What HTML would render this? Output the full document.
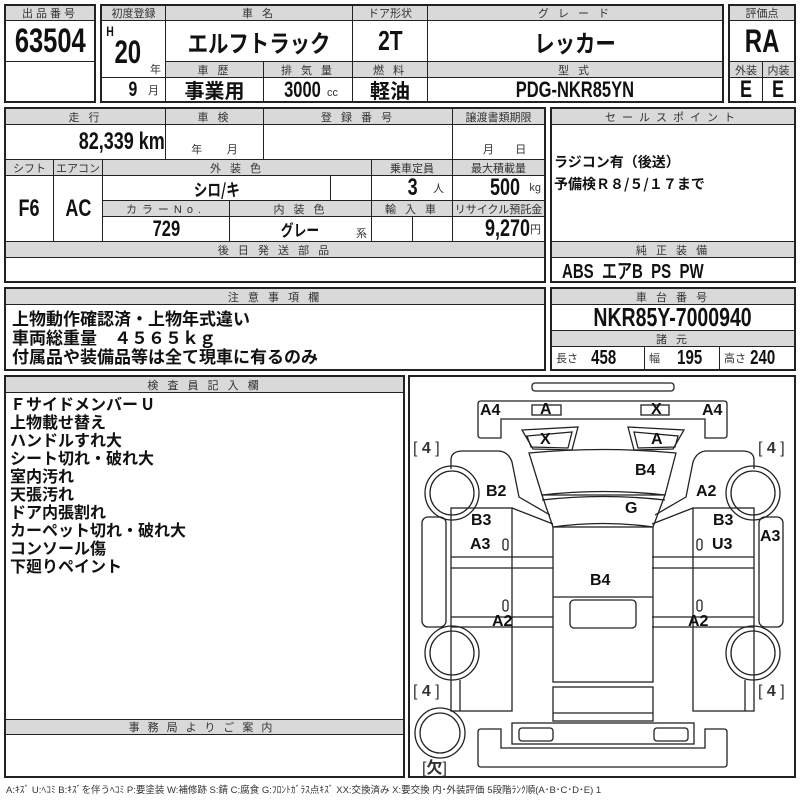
<!DOCTYPE html>
<html><head><meta charset="utf-8"><style>
body{margin:0;width:800px;height:800px;background:#fff;position:relative;overflow:hidden;font-family:"Liberation Sans","Noto Sans CJK JP",sans-serif;color:#111}
.c{position:absolute;box-sizing:border-box;border:1px solid #222;display:flex;align-items:center;justify-content:center;overflow:hidden;white-space:nowrap}
.h{background:#d9d9d9;font-size:11px;color:#333;letter-spacing:3px}
.v{font-family:"Liberation Sans","Noto Sans CJK JP",sans-serif;font-weight:bold;font-size:22px}
.n{display:inline-block;transform:scaleX(.75);font-family:"Liberation Sans",sans-serif;font-weight:bold}
.j{font-family:"Noto Sans CJK JP",sans-serif;font-weight:bold;font-size:18px}
.s{font-size:11px;color:#333;font-weight:normal}
.o{position:absolute;box-sizing:border-box;border:2px solid #222;pointer-events:none}
</style></head><body>
<!-- Box1 -->
<div class="c h" style="left:5px;top:5px;width:90px;height:16px">出品番号</div>
<div class="c" style="left:5px;top:20px;width:90px;height:42px"><span class="n" style="font-size:34px">63504</span></div>
<div class="c" style="left:5px;top:61px;width:90px;height:41px"></div>
<div class="o" style="left:4px;top:4px;width:92px;height:99px"></div>
<!-- Box2 -->
<div class="c h" style="left:101px;top:5px;width:65px;height:16px;letter-spacing:0">初度登録</div>
<div class="c h" style="left:165px;top:5px;width:188px;height:16px">車 名</div>
<div class="c h" style="left:352px;top:5px;width:76px;height:16px;letter-spacing:0">ドア形状</div>
<div class="c h" style="left:427px;top:5px;width:296px;height:16px">グ レ ー ド</div>
<div class="c" style="left:101px;top:20px;width:65px;height:58px;display:block">
 <span class="n" style="position:absolute;left:3px;top:2px;font-size:14px">H</span>
 <span class="n" style="position:absolute;left:8px;top:13px;font-size:32px">20</span>
 <span class="s" style="position:absolute;left:48px;top:40px">年</span></div>
<div class="c" style="left:165px;top:20px;width:188px;height:42px"><span class="j" style="font-size:24px;display:inline-block;transform:scaleX(.85)">エルフトラック</span></div>
<div class="c" style="left:352px;top:20px;width:76px;height:42px"><span class="n" style="font-size:28px">2T</span></div>
<div class="c" style="left:427px;top:20px;width:296px;height:42px"><span class="j" style="font-size:24px;display:inline-block;transform:scaleX(.85)">レッカー</span></div>
<div class="c h" style="left:165px;top:61px;width:99px;height:17px">車 歴</div>
<div class="c h" style="left:263px;top:61px;width:90px;height:17px">排 気 量</div>
<div class="c h" style="left:352px;top:61px;width:76px;height:17px">燃 料</div>
<div class="c h" style="left:427px;top:61px;width:296px;height:17px">型 式</div>
<div class="c" style="left:101px;top:77px;width:65px;height:25px;justify-content:flex-end;padding-right:6px"><span class="n" style="font-size:21px">9</span>&nbsp;&nbsp;<span class="s">月</span></div>
<div class="c j" style="left:165px;top:77px;width:99px;height:25px;font-size:20px">事業用</div>
<div class="c" style="left:263px;top:77px;width:90px;height:25px"><span class="n" style="font-size:22px">3000</span><span class="s" style="margin-top:6px">cc</span></div>
<div class="c j" style="left:352px;top:77px;width:76px;height:25px;font-size:20px">軽油</div>
<div class="c" style="left:427px;top:77px;width:296px;height:25px"><span class="n" style="font-size:22px">PDG-NKR85YN</span></div>
<div class="o" style="left:100px;top:4px;width:624px;height:99px"></div>
<!-- Box3 -->
<div class="c h" style="left:729px;top:5px;width:66px;height:16px;letter-spacing:0">評価点</div>
<div class="c" style="left:729px;top:20px;width:66px;height:42px"><span class="n" style="font-size:32px">RA</span></div>
<div class="c h" style="left:729px;top:61px;width:34px;height:17px;letter-spacing:0">外装</div>
<div class="c h" style="left:762px;top:61px;width:33px;height:17px;letter-spacing:0">内装</div>
<div class="c" style="left:729px;top:77px;width:34px;height:25px"><span class="n" style="font-size:24px">E</span></div>
<div class="c" style="left:762px;top:77px;width:33px;height:25px"><span class="n" style="font-size:24px">E</span></div>
<div class="o" style="left:728px;top:4px;width:68px;height:99px"></div>
<!-- Box4 -->
<div class="c h" style="left:5px;top:108px;width:161px;height:17px">走 行</div>
<div class="c h" style="left:165px;top:108px;width:99px;height:17px">車 検</div>
<div class="c h" style="left:263px;top:108px;width:190px;height:17px">登 録 番 号</div>
<div class="c h" style="left:452px;top:108px;width:93px;height:17px;letter-spacing:0">譲渡書類期限</div>
<div class="c" style="left:5px;top:124px;width:161px;height:36px;justify-content:flex-end;padding-right:0px"><span class="n" style="font-size:24px;transform-origin:right">82,339 km</span></div>
<div class="c s" style="left:165px;top:124px;width:99px;height:36px;align-items:flex-end;padding-bottom:2px">年&nbsp;&nbsp;&nbsp;&nbsp;&nbsp;&nbsp;&nbsp;&nbsp;月</div>
<div class="c" style="left:263px;top:124px;width:190px;height:36px"></div>
<div class="c s" style="left:452px;top:124px;width:93px;height:36px;align-items:flex-end;padding-bottom:2px">&nbsp;&nbsp;&nbsp;&nbsp;月&nbsp;&nbsp;&nbsp;&nbsp;&nbsp;&nbsp;&nbsp;日</div>
<div class="c h" style="left:5px;top:159px;width:49px;height:17px;letter-spacing:0">シフト</div>
<div class="c h" style="left:53px;top:159px;width:50px;height:17px;letter-spacing:0">エアコン</div>
<div class="c h" style="left:102px;top:159px;width:270px;height:17px">外 装 色</div>
<div class="c h" style="left:371px;top:159px;width:82px;height:17px;letter-spacing:0">乗車定員</div>
<div class="c h" style="left:452px;top:159px;width:93px;height:17px;letter-spacing:0">最大積載量</div>
<div class="c" style="left:5px;top:175px;width:49px;height:67px"><span class="n" style="font-size:24px">F6</span></div>
<div class="c" style="left:53px;top:175px;width:50px;height:67px"><span class="n" style="font-size:24px">AC</span></div>
<div class="c" style="left:102px;top:175px;width:229px;height:26px"><span class="j" style="font-size:17px;display:inline-block;transform:scaleX(.8)">シロ/キ</span></div>
<div class="c" style="left:330px;top:175px;width:42px;height:26px"></div>
<div class="c" style="left:371px;top:175px;width:82px;height:26px;justify-content:flex-end;padding-right:8px"><span class="n" style="font-size:24px">3</span>&nbsp;&nbsp;&nbsp;<span class="s">人</span></div>
<div class="c" style="left:452px;top:175px;width:93px;height:26px;justify-content:flex-end;padding-right:3px"><span class="n" style="font-size:24px">500</span>&nbsp;<span class="s">kg</span></div>
<div class="c h" style="left:102px;top:200px;width:128px;height:17px;letter-spacing:5px">カラーNo.</div>
<div class="c h" style="left:229px;top:200px;width:143px;height:17px">内 装 色</div>
<div class="c h" style="left:371px;top:200px;width:82px;height:17px">輸 入 車</div>
<div class="c h" style="left:452px;top:200px;width:93px;height:17px;letter-spacing:0">リサイクル預託金</div>
<div class="c" style="left:102px;top:216px;width:128px;height:26px"><span class="n" style="font-size:22px">729</span></div>
<div class="c" style="left:229px;top:216px;width:143px;height:26px"><span class="j" style="font-size:16px;display:inline-block;transform:scaleX(.8)">グレー</span><span class="s" style="position:absolute;right:4px;top:8px">系</span></div>
<div class="c" style="left:371px;top:216px;width:42px;height:26px"></div>
<div class="c" style="left:412px;top:216px;width:41px;height:26px"></div>
<div class="c" style="left:452px;top:216px;width:93px;height:26px;justify-content:flex-end;padding-right:3px"><span class="n" style="font-size:24px;transform-origin:right">9,270</span><span class="s">円</span></div>
<div class="c h" style="left:5px;top:241px;width:540px;height:17px">後 日 発 送 部 品</div>
<div class="c" style="left:5px;top:257px;width:540px;height:25px"></div>
<div class="o" style="left:4px;top:107px;width:542px;height:176px"></div>
<!-- Box5 -->
<div class="c h" style="left:551px;top:108px;width:244px;height:17px;letter-spacing:6px">セールスポイント</div>
<div class="c" style="left:551px;top:124px;width:244px;height:118px;display:block;padding:26px 0 0 2px;font-family:'Noto Sans CJK JP',sans-serif;font-weight:bold;font-size:14px;line-height:22px">ラジコン有（後送）<br>予備検Ｒ８/５/１７まで</div>
<div class="c h" style="left:551px;top:241px;width:244px;height:17px">純 正 装 備</div>
<div class="c" style="left:551px;top:257px;width:244px;height:25px;justify-content:flex-start;padding-left:0px"><span class="n" style="font-size:20px;transform-origin:left;margin-left:10px">ABS&nbsp; エアB&nbsp; PS&nbsp; PW</span></div>
<div class="o" style="left:550px;top:107px;width:246px;height:176px"></div>
<!-- Box6 -->
<div class="c h" style="left:5px;top:288px;width:540px;height:17px">注 意 事 項 欄</div>
<div class="c j" style="left:5px;top:304px;width:540px;height:66px;display:block;padding:3px 0 0 6px;line-height:19px;font-size:17px">上物動作確認済・上物年式違い<br>車両総重量　４５６５ｋｇ<br>付属品や装備品等は全て現車に有るのみ</div>
<div class="o" style="left:4px;top:287px;width:542px;height:84px"></div>
<!-- Box7 -->
<div class="c h" style="left:551px;top:288px;width:244px;height:17px">車 台 番 号</div>
<div class="c" style="left:551px;top:304px;width:244px;height:27px"><span class="n" style="font-size:26px">NKR85Y-7000940</span></div>
<div class="c h" style="left:551px;top:330px;width:244px;height:17px">諸 元</div>
<div class="c" style="left:551px;top:346px;width:94px;height:24px;justify-content:flex-start;padding-left:4px"><span class="s">長さ</span>&nbsp;&nbsp;<span class="n" style="font-size:20px">458</span></div>
<div class="c" style="left:644px;top:346px;width:76px;height:24px;justify-content:flex-start;padding-left:4px"><span class="s">幅</span>&nbsp;&nbsp;&nbsp;<span class="n" style="font-size:20px">195</span></div>
<div class="c" style="left:719px;top:346px;width:76px;height:24px;justify-content:flex-start;padding-left:4px"><span class="s">高さ</span><span class="n" style="font-size:20px">240</span></div>
<div class="o" style="left:550px;top:287px;width:246px;height:84px"></div>
<!-- Box8 -->
<div class="c h" style="left:5px;top:376px;width:399px;height:17px">検 査 員 記 入 欄</div>
<div class="c j" style="left:5px;top:392px;width:399px;height:328px;display:block;padding:1px 0 0 4px;line-height:18px;font-size:16px">Ｆサイドメンバー U<br>上物載せ替え<br>ハンドルすれ大<br>シート切れ・破れ大<br>室内汚れ<br>天張汚れ<br>ドア内張割れ<br>カーペット切れ・破れ大<br>コンソール傷<br>下廻りペイント</div>
<div class="c h" style="left:5px;top:719px;width:399px;height:16px;letter-spacing:8px">事務局よりご案内</div>
<div class="c" style="left:5px;top:734px;width:399px;height:43px"></div>
<div class="o" style="left:4px;top:375px;width:401px;height:403px"></div>
<!-- Box9 diagram -->
<div class="o" style="left:408px;top:375px;width:388px;height:403px"></div>
<svg width="800" height="800" style="position:absolute;left:0;top:0" fill="none" stroke="#222" stroke-width="1.3">
<rect x="532" y="383" width="142" height="8" rx="3"/>
<path d="M478,404 Q478,401 481,401 L724,401 Q727,401 727,404 L727,435 Q727,438 724,438 L705,438 L705,419 L501,419 L501,438 L481,438 Q478,438 478,435 Z"/>
<rect x="532" y="405" width="29" height="10"/><rect x="641" y="405" width="28" height="10"/>
<path d="M522,430 L578,427 L572,450 L533,449 Z"/><path d="M527,436 L572,432 L568,448 L531,447 Z"/>
<path d="M628,427 L684,430 L673,449 L634,450 Z"/><path d="M634,432 L678,436 L675,447 L638,448 Z"/>
<path d="M529,453 Q603,446 676,453 L665,495 Q603,488 542,495 Z"/>
<path d="M542,495 L665,495 L653,527 Q603,520 553,527 Z"/>
<path d="M542,500 Q603,493 665,500"/>
<rect x="553" y="527" width="100" height="155"/><line x1="553" y1="597" x2="653" y2="597"/>
<rect x="570" y="600" width="66" height="28" rx="4"/>
<rect x="553" y="687" width="100" height="34"/><line x1="553" y1="713" x2="653" y2="713"/>
<path d="M478,732 Q478,729 481,729 L501,729 L501,748 L705,748 L705,729 L724,729 Q727,729 727,732 L727,764 Q727,767 724,767 L481,767 Q478,767 478,764 Z"/>
<rect x="512" y="723" width="182" height="21"/>
<rect x="519" y="728" width="34" height="13" rx="3"/><rect x="654" y="728" width="34" height="13" rx="3"/>
<g id="L">
<path d="M451,469 L451,460 Q451,451 463,451 L498,451 Q508,451 512,462 L519,497 L550,515"/>
<path d="M512,508 L553,524"/>
<rect x="451" y="508" width="61" height="203"/>
<line x1="451" y1="557" x2="553" y2="557"/><line x1="451" y1="568" x2="553" y2="568"/>
<line x1="451" y1="617" x2="553" y2="617"/><line x1="451" y1="627" x2="553" y2="627"/>
<line x1="460" y1="680" x2="460" y2="711"/>
<rect x="422" y="517" width="24" height="110" rx="6"/>
<circle cx="452" cy="493" r="27"/><circle cx="452" cy="493" r="22"/>
<circle cx="452" cy="653" r="27"/><circle cx="452" cy="653" r="22"/>
<rect x="503" y="539" width="5" height="11" rx="2.5"/><rect x="503" y="600" width="5" height="11" rx="2.5"/>
</g>
<use href="#L" transform="translate(1205,0) scale(-1,1)"/>
<circle cx="440" cy="733" r="25"/><circle cx="440" cy="733" r="20"/>
</svg>
<div style="position:absolute;left:0;top:0;font-family:'Liberation Sans','Noto Sans CJK JP',sans-serif;font-weight:bold;font-size:16px;white-space:nowrap">
<span style="position:absolute;left:480px;top:402px">A4</span>
<span style="position:absolute;left:540px;top:401px">A</span>
<span style="position:absolute;left:651px;top:401px">X</span>
<span style="position:absolute;left:702px;top:402px">A4</span>
<span style="position:absolute;left:540px;top:431px">X</span>
<span style="position:absolute;left:651px;top:431px">A</span>
<span style="position:absolute;left:635px;top:462px">B4</span>
<span style="position:absolute;left:486px;top:483px">B2</span>
<span style="position:absolute;left:625px;top:500px">G</span>
<span style="position:absolute;left:696px;top:483px">A2</span>
<span style="position:absolute;left:471px;top:512px">B3</span>
<span style="position:absolute;left:470px;top:536px">A3</span>
<span style="position:absolute;left:713px;top:512px">B3</span>
<span style="position:absolute;left:712px;top:536px">U3</span>
<span style="position:absolute;left:760px;top:528px">A3</span>
<span style="position:absolute;left:590px;top:572px">B4</span>
<span style="position:absolute;left:492px;top:613px">A2</span>
<span style="position:absolute;left:688px;top:613px">A2</span>
<span style="position:absolute;left:413px;top:440px;font-weight:normal;color:#333">[ <b>4</b> ]</span>
<span style="position:absolute;left:758px;top:440px;font-weight:normal;color:#333">[ <b>4</b> ]</span>
<span style="position:absolute;left:413px;top:683px;font-weight:normal;color:#333">[ <b>4</b> ]</span>
<span style="position:absolute;left:758px;top:683px;font-weight:normal;color:#333">[ <b>4</b> ]</span>
<span style="position:absolute;left:422px;top:754px;font-weight:normal;color:#333">[<b>欠</b>]</span>
</div>
<div style="position:absolute;left:6px;top:782px;font-size:9.5px;color:#333;white-space:nowrap;font-family:'Liberation Sans','Noto Sans CJK JP',sans-serif">A:ｷｽﾞ U:ﾍｺﾐ B:ｷｽﾞを伴うﾍｺﾐ P:要塗装 W:補修跡 S:錆 C:腐食 G:ﾌﾛﾝﾄｶﾞﾗｽ点ｷｽﾞ XX:交換済み X:要交換 内･外装評価 5段階ﾗﾝｸ順(A･B･C･D･E) 1</div>
</body></html>
